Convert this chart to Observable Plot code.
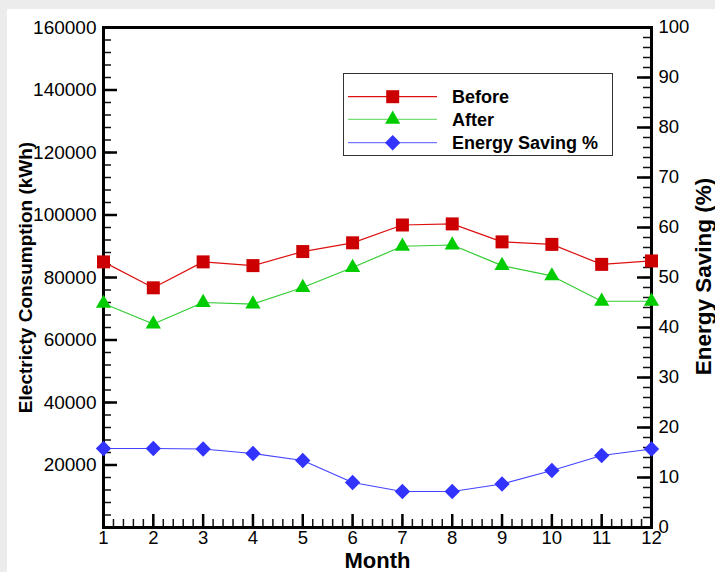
<!DOCTYPE html>
<html><head><meta charset="utf-8">
<script src="https://cdn.jsdelivr.net/npm/d3@7"></script>
<script src="https://cdn.jsdelivr.net/npm/@observablehq/plot@0.6"></script>
<style>
body{margin:0;width:715px;height:572px;overflow:hidden;background:#ececec;font-family:"Liberation Sans",Arial,sans-serif;}
#panel{position:absolute;left:7px;top:9px;width:708px;height:563px;background:#fff;}
#chart{position:absolute;left:0;top:0;}
#legend{position:absolute;left:343px;top:73px;width:268px;height:81px;border:1px solid #333;background:#fff;}
#legend svg{display:block;}
</style></head><body>
<div id="panel"></div><div id="chart"></div><div id="legend"></div>
<script>
const months = [1,2,3,4,5,6,7,8,9,10,11,12];
const before = [85000, 76700, 85000, 83800, 88300, 91100, 96800, 97150, 91400, 90600, 84200, 85300];
const after  = [71700, 65100, 72000, 71500, 76800, 83200, 90000, 90400, 83800, 80500, 72400, 72400];
const saving = [15.8, 15.8, 15.7, 14.8, 13.4, 9.0, 7.2, 7.2, 8.7, 11.4, 14.4, 15.7];
const leftTicks = [20000, 40000, 60000, 80000, 100000, 120000, 140000, 160000];
const rightTicks = [0, 10, 20, 30, 40, 50, 60, 70, 80, 90, 100];
const seriesNames = ["Before", "After", "Energy Saving %"];
const seriesColors = ["#cc0000", "#00cc00", "#3333ff"];
const lineColors = ["#dd1111", "#33cc33", "#4444ff"];
const legendLineColors = ["#dd1111", "#77dd77", "#7777ff"];

const yMax = 160000, pMax = 100, k = yMax / pMax;
const W = 715, H = 572, mL = 103, mR = 64, mT = 27, mB = 45;
const pw = W - mL - mR, ph = H - mT - mB;

const table = months.map((m, i) => ({month: m, before: before[i], after: after[i], saving: saving[i] * k}));

const diamond = {draw(ctx, size) { const r = Math.sqrt(size / 2); ctx.moveTo(0, -r); ctx.lineTo(r, 0); ctx.lineTo(0, r); ctx.lineTo(-r, 0); ctx.closePath(); }};
const rSquare = Math.sqrt(169 / Math.PI);
const rTri = Math.sqrt(100 / Math.PI);
const rDia = Math.sqrt(118 / Math.PI);

const chart = Plot.plot({
  width: W, height: H,
  marginLeft: mL, marginRight: mR, marginTop: mT, marginBottom: mB,
  style: {background: "transparent", fontFamily: "'Liberation Sans', Arial, sans-serif", color: "black", overflow: "visible"},
  x: {domain: [1, 12]},
  y: {domain: [0, yMax]},
  marks: [
    // minor & major ticks, inward
    Plot.tickY(d3.range(0, yMax + 1, 4000), {insetRight: pw - 8, stroke: "#111", strokeWidth: 1.5}),
    Plot.tickY(d3.range(0, yMax + 1, 20000), {insetRight: pw - 14, stroke: "#000", strokeWidth: 2.5}),
    Plot.tickY(d3.range(0, pMax + 1, 2).map(v => v * k), {insetLeft: pw - 8, stroke: "#111", strokeWidth: 1.5}),
    Plot.tickY(rightTicks.map(v => v * k), {insetLeft: pw - 14, stroke: "#000", strokeWidth: 2.5}),
    Plot.tickX(d3.range(10, 121, 2).map(v => v / 10), {insetTop: ph - 8, stroke: "#111", strokeWidth: 1.5}),
    Plot.tickX(months, {insetTop: ph - 13, stroke: "#000", strokeWidth: 2.5}),
    Plot.frame({stroke: "black", strokeWidth: 3}),
    // series
    Plot.line(table, {x: "month", y: "before", stroke: lineColors[0], strokeWidth: 1.2}),
    Plot.line(table, {x: "month", y: "after", stroke: lineColors[1], strokeWidth: 1.2}),
    Plot.line(table, {x: "month", y: "saving", stroke: lineColors[2], strokeWidth: 1.2}),
    Plot.dot(table, {x: "month", y: "before", symbol: "square", r: rSquare, fill: seriesColors[0], stroke: "none"}),
    Plot.dot(table, {x: "month", y: "after", symbol: "triangle", r: rTri, fill: seriesColors[1], stroke: "none"}),
    Plot.dot(table, {x: "month", y: "saving", symbol: diamond, r: rDia, fill: seriesColors[2], stroke: "none"}),
    // axes labels
    Plot.axisY(leftTicks, {anchor: "left", tickSize: 0, tickPadding: 7, fontSize: 19, tickFormat: d => String(d), label: null}),
    Plot.axisY(rightTicks.map(v => v * k), {anchor: "right", tickSize: 0, tickPadding: 7, fontSize: 18.5, tickFormat: d => String(Math.round(d / k)), label: null}),
    Plot.axisX(months, {anchor: "bottom", tickSize: 0, tickPadding: 3, fontSize: 18.5, tickFormat: d => String(d), label: null}),
    // titles
    Plot.text(["Electricty Consumption (kWh)"], {frameAnchor: "left", textAnchor: "middle", lineAnchor: "middle", rotate: -90, dx: -78, dy: 0, fontWeight: "bold", fontSize: 19}),
    Plot.text(["Energy Saving (%)"], {frameAnchor: "right", textAnchor: "middle", lineAnchor: "middle", rotate: -90, dx: 52, dy: -1, fontWeight: "bold", fontSize: 22.5}),
    Plot.text(["Month"], {frameAnchor: "bottom", textAnchor: "middle", lineAnchor: "middle", dy: 33, fontWeight: "bold", fontSize: 22})
  ]
});
document.getElementById("chart").appendChild(chart);

// legend
const lg = d3.select("#legend").append("svg").attr("width", 268).attr("height", 81)
  .style("font-family", "'Liberation Sans', Arial, sans-serif");
const rowY = [22.7, 45.3, 68.7];
const symbols = [d3.symbol(d3.symbolSquare, 169), d3.symbol(d3.symbolTriangle, 100), d3.symbol(diamond, 118)];
seriesNames.forEach((name, i) => {
  const g = lg.append("g").attr("transform", `translate(0,${rowY[i]})`);
  g.append("line").attr("x1", 4).attr("x2", 93).attr("y1", 0).attr("y2", 0)
    .attr("stroke", legendLineColors[i]).attr("stroke-width", 1.3);
  g.append("path").attr("d", symbols[i]()).attr("transform", "translate(48.7,0)").attr("fill", seriesColors[i]);
  g.append("text").attr("x", 108).attr("y", 0).attr("dy", "0.35em")
    .attr("font-size", 18).attr("font-weight", "bold").text(name);
});
</script>
</body></html>
